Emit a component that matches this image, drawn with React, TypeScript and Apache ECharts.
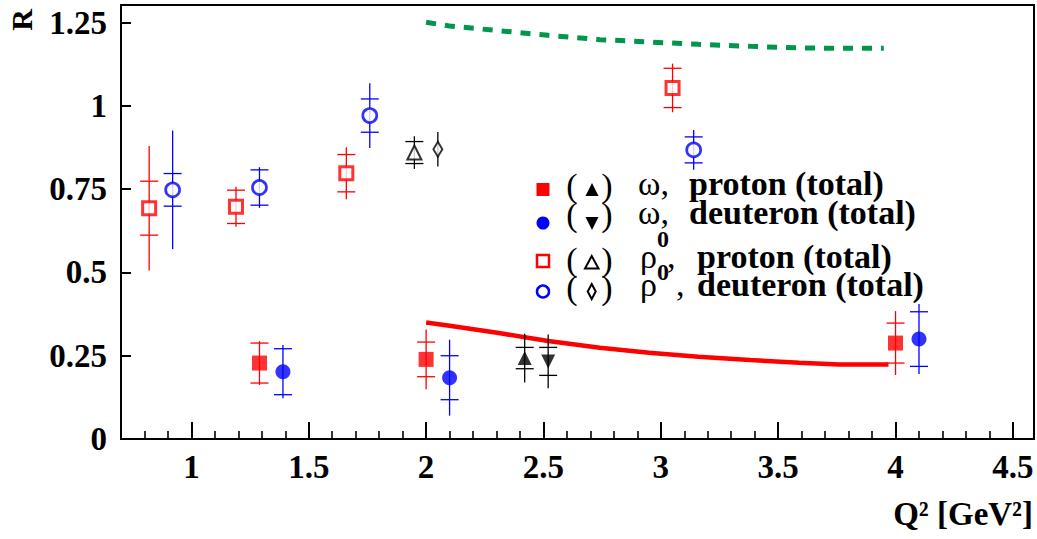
import React, { useEffect, useRef } from 'react';
import * as echarts from 'echarts';

const X_MIN = 0.7;
const X_MAX = 4.59;
const Y_MIN = 0;
const Y_MAX = 1.303;

const xMajorTicks = [1, 1.5, 2, 2.5, 3, 3.5, 4, 4.5];
const xMinorTicks = [0.8, 0.9, 1.1, 1.2, 1.3, 1.4, 1.6, 1.7, 1.8, 1.9, 2.1, 2.2, 2.3, 2.4, 2.6, 2.7, 2.8, 2.9, 3.1, 3.2, 3.3, 3.4, 3.6, 3.7, 3.8, 3.9, 4.1, 4.2, 4.3, 4.4];
const yTicks = [0, 0.25, 0.5, 0.75, 1, 1.25];

// omega, proton (filled red squares)
const omegaProtonX = [1.29, 2.0, 4.0];
const omegaProtonY = [0.228, 0.239, 0.288];
const omegaProtonStat = [0.06, 0.052, 0.06];
const omegaProtonTot = [0.066, 0.09, 0.096];

// omega, deuteron (filled blue circles)
const omegaDeutX = [1.39, 2.1, 4.1];
const omegaDeutY = [0.202, 0.184, 0.3];
const omegaDeutStat = [0.069, 0.066, 0.082];
const omegaDeutTot = [0.08, 0.114, 0.105];

// rho0, proton (open red squares)
const rhoProtonX = [0.82, 1.19, 1.66, 3.05];
const rhoProtonY = [0.693, 0.697, 0.798, 1.054];
const rhoProtonStat = [0.081, 0.05, 0.056, 0.059];
const rhoProtonTot = [0.187, 0.06, 0.078, 0.073];

// rho0, deuteron (open blue circles)
const rhoDeutX = [0.92, 1.29, 1.76, 3.14];
const rhoDeutY = [0.748, 0.755, 0.971, 0.868];
const rhoDeutStat = [0.049, 0.053, 0.05, 0.039];
const rhoDeutTot = [0.178, 0.061, 0.097, 0.06];

// other measurements (black markers)
const omegaProtonOtherX = [2.42];
const omegaProtonOtherY = [0.243];
const omegaProtonOtherStat = [0.032];
const omegaProtonOtherTot = [0.073];

const omegaDeutOtherX = [2.52];
const omegaDeutOtherY = [0.233];
const omegaDeutOtherStat = [0.042];
const omegaDeutOtherTot = [0.081];

const rhoProtonOtherX = [1.95];
const rhoProtonOtherY = [0.86];
const rhoProtonOtherStat = [0.033];
const rhoProtonOtherTot = [0.049];

const rhoDeutOtherX = [2.05];
const rhoDeutOtherY = [0.87];
const rhoDeutOtherStat = [0];
const rhoDeutOtherTot = [0.052];

// model curves
const omegaCurveX = [2.0, 2.1, 2.31, 2.52, 2.74, 2.95, 3.16, 3.38, 3.59, 3.76, 3.97];
const omegaCurveY = [0.35, 0.34, 0.318, 0.294, 0.274, 0.259, 0.247, 0.237, 0.229, 0.224, 0.224];
const rhoCurveX = [2.0, 2.1, 2.31, 2.52, 2.74, 2.95, 3.16, 3.38, 3.59, 3.8, 3.95];
const rhoCurveY = [1.251, 1.24, 1.226, 1.212, 1.199, 1.192, 1.185, 1.179, 1.174, 1.173, 1.173];

const FONT = '"Liberation Serif", "Times New Roman", serif';
const RED = '#ff0000';
const BLUE = '#0000ff';
const BLACK = '#000000';
const GREEN = '#00964b';

const zip = (xs: number[], ys: number[]) => xs.map((x, i) => [x, ys[i]]);

function errSeries(xs: number[], ys: number[], st: number[], tot: number[], color: string) {
  return {
    type: 'custom',
    z: 2,
    silent: true,
    encode: { x: 0, y: 1 },
    data: xs.map((x, i) => [x, ys[i], st[i], tot[i]]),
    renderItem: (params: any, api: any) => {
      const x = api.value(0);
      const y = api.value(1);
      const s = api.value(2);
      const t = api.value(3);
      const pT = api.coord([x, y + t]);
      const pB = api.coord([x, y - t]);
      const children: any[] = [
        {
          type: 'line',
          shape: { x1: pT[0], y1: pT[1], x2: pB[0], y2: pB[1] },
          style: { stroke: color, lineWidth: 1.3 },
        },
      ];
      if (s > 0) {
        const sT = api.coord([x, y + s]);
        const sB = api.coord([x, y - s]);
        [sT, sB].forEach((p) => {
          children.push({
            type: 'line',
            shape: { x1: p[0] - 9, y1: p[1], x2: p[0] + 9, y2: p[1] },
            style: { stroke: color, lineWidth: 1.3 },
          });
        });
      }
      return { type: 'group', children };
    },
  };
}

function markSeries(xs: number[], ys: number[], symbol: string, size: any, style: any, rotate = 0) {
  return {
    type: 'scatter',
    z: 3,
    silent: true,
    symbol,
    symbolSize: size,
    symbolRotate: rotate,
    itemStyle: style,
    data: zip(xs, ys),
  };
}

export default function App() {
  const ref = useRef<HTMLDivElement>(null);
  useEffect(() => {
    if (!ref.current) return;
    const chart = echarts.init(ref.current, null, { renderer: 'svg' });
    const labelStyle = { fontFamily: FONT, fontWeight: 'bold', fontSize: 33, color: BLACK };
    const txt = (text: string, x: number, y: number, size: number, bold = true, align = 'left') => ({
      type: 'text',
      x,
      y,
      style: {
        text,
        font: `${bold ? 'bold ' : ''}${size}px ${FONT}`,
        fill: BLACK,
        align,
        verticalAlign: 'middle',
        lineHeight: Math.round(size * 0.8),
      },
    });
    const option: any = {
      animation: false,
      backgroundColor: '#ffffff',
      grid: {
        left: 121,
        right: 3,
        top: 5,
        bottom: 100,
        show: true,
        borderColor: BLACK,
        borderWidth: 2,
        backgroundColor: 'transparent',
      },
      xAxis: [
        {
          type: 'value',
          min: X_MIN,
          max: X_MAX,
          position: 'bottom',
          axisLine: { show: true, onZero: false, lineStyle: { color: BLACK, width: 2 } },
          axisTick: { show: true, inside: true, length: 17, customValues: xMajorTicks, lineStyle: { color: BLACK, width: 2 } },
          axisLabel: { show: true, customValues: xMajorTicks, margin: 11, ...labelStyle },
          splitLine: { show: false },
        },
        {
          type: 'value',
          min: X_MIN,
          max: X_MAX,
          position: 'bottom',
          axisLine: { show: false },
          axisTick: { show: true, inside: true, length: 8, customValues: xMinorTicks, lineStyle: { color: BLACK, width: 1.6 } },
          axisLabel: { show: false },
          splitLine: { show: false },
        },
      ],
      yAxis: {
        type: 'value',
        min: Y_MIN,
        max: Y_MAX,
        axisLine: { show: true, onZero: false, lineStyle: { color: BLACK, width: 2 } },
        axisTick: { show: true, inside: true, length: 10, customValues: yTicks, lineStyle: { color: BLACK, width: 2 } },
        axisLabel: { show: true, customValues: yTicks, margin: 14, ...labelStyle },
        splitLine: { show: false },
      },
      series: [
        {
          type: 'line',
          z: 1,
          silent: true,
          showSymbol: false,
          symbol: 'none',
          data: zip(rhoCurveX, rhoCurveY),
          lineStyle: { color: GREEN, width: 5, type: [10, 9], cap: 'butt' },
        },
        {
          type: 'line',
          z: 1,
          silent: true,
          showSymbol: false,
          symbol: 'none',
          data: zip(omegaCurveX, omegaCurveY),
          lineStyle: { color: RED, width: 4.5 },
        },
        errSeries(rhoProtonX, rhoProtonY, rhoProtonStat, rhoProtonTot, RED),
        errSeries(rhoDeutX, rhoDeutY, rhoDeutStat, rhoDeutTot, BLUE),
        errSeries(omegaProtonX, omegaProtonY, omegaProtonStat, omegaProtonTot, RED),
        errSeries(omegaDeutX, omegaDeutY, omegaDeutStat, omegaDeutTot, BLUE),
        errSeries(omegaProtonOtherX, omegaProtonOtherY, omegaProtonOtherStat, omegaProtonOtherTot, BLACK),
        errSeries(omegaDeutOtherX, omegaDeutOtherY, omegaDeutOtherStat, omegaDeutOtherTot, BLACK),
        errSeries(rhoProtonOtherX, rhoProtonOtherY, rhoProtonOtherStat, rhoProtonOtherTot, BLACK),
        errSeries(rhoDeutOtherX, rhoDeutOtherY, rhoDeutOtherStat, rhoDeutOtherTot, BLACK),
        markSeries(rhoProtonX, rhoProtonY, 'rect', 13, { color: '#ffffff', borderColor: RED, borderWidth: 3 }),
        markSeries(rhoDeutX, rhoDeutY, 'circle', 14, { color: '#ffffff', borderColor: BLUE, borderWidth: 2.7 }),
        markSeries(omegaProtonX, omegaProtonY, 'rect', 15, { color: RED }),
        markSeries(omegaDeutX, omegaDeutY, 'circle', 15, { color: BLUE }),
        markSeries(omegaProtonOtherX, omegaProtonOtherY, 'triangle', 14, { color: BLACK }),
        markSeries(omegaDeutOtherX, omegaDeutOtherY, 'triangle', 14, { color: BLACK }, 180),
        markSeries(rhoProtonOtherX, rhoProtonOtherY, 'triangle', 14, { color: '#ffffff', borderColor: BLACK, borderWidth: 2 }),
        markSeries(rhoDeutOtherX, rhoDeutOtherY, 'diamond', [9, 15], { color: '#ffffff', borderColor: BLACK, borderWidth: 2 }),
      ],
      graphic: [
        // axis titles
        {
          type: 'text',
          x: 21,
          y: 20,
          rotation: Math.PI / 2,
          style: { text: 'R', font: `bold 30px ${FONT}`, fill: BLACK, align: 'center', verticalAlign: 'middle' },
        },
        txt('Q² [GeV²]', 1033, 514, 33, true, 'right'),
        // legend markers
        { type: 'rect', shape: { x: 536.5, y: 183, width: 13, height: 13 }, style: { fill: RED } },
        { type: 'circle', shape: { cx: 543, cy: 223, r: 6.5 }, style: { fill: BLUE } },
        { type: 'rect', shape: { x: 537, y: 255, width: 12, height: 12 }, style: { fill: '#fff', stroke: RED, lineWidth: 2.5 } },
        { type: 'circle', shape: { cx: 543, cy: 291.5, r: 6 }, style: { fill: '#fff', stroke: BLUE, lineWidth: 2.5 } },
        // parentheses and inner markers
        txt('(', 572, 185, 34, false, 'center'),
        txt(')', 607, 185, 34, false, 'center'),
        txt('(', 572, 214.5, 34, false, 'center'),
        txt(')', 607, 214.5, 34, false, 'center'),
        txt('(', 572, 259, 34, false, 'center'),
        txt(')', 607, 259, 34, false, 'center'),
        txt('(', 572, 287, 34, false, 'center'),
        txt(')', 607, 287, 34, false, 'center'),
        { type: 'polygon', shape: { points: [[585.5, 196], [598.5, 196], [592, 183]] }, style: { fill: BLACK } },
        { type: 'polygon', shape: { points: [[585.5, 217], [598.5, 217], [592, 230]] }, style: { fill: BLACK } },
        { type: 'polygon', shape: { points: [[585, 268.5], [598.5, 268.5], [591.7, 256]] }, style: { fill: '#fff', stroke: BLACK, lineWidth: 2 } },
        { type: 'polygon', shape: { points: [[591.7, 284], [595.7, 291.5], [591.7, 299], [587.7, 291.5]] }, style: { fill: '#fff', stroke: BLACK, lineWidth: 2 } },
        // greek letters
        txt('ω,', 638, 183, 34, false),
        txt('ω,', 638, 212, 34, false),
        txt('ρ', 640, 256, 34, false),
        txt('0', 663, 239, 24, true, 'center'),
        txt(',', 667, 256, 34, false),
        txt('ρ', 640, 284.5, 34, false),
        txt('0', 663, 272, 24, true, 'center'),
        txt(',', 676, 284.5, 34, false),
        // legend texts
        txt('proton (total)', 689, 183, 34),
        txt('deuteron (total)', 689, 212, 34),
        txt('proton (total)', 697, 256, 34),
        txt('deuteron (total)', 697, 284.5, 34),
      ],
    };
    chart.setOption(option);
    return () => chart.dispose();
  }, []);
  return (
    <div
      ref={ref}
      style={{ position: 'fixed', left: 0, top: 0, width: 1037, height: 539, background: '#fff' }}
    />
  );
}
